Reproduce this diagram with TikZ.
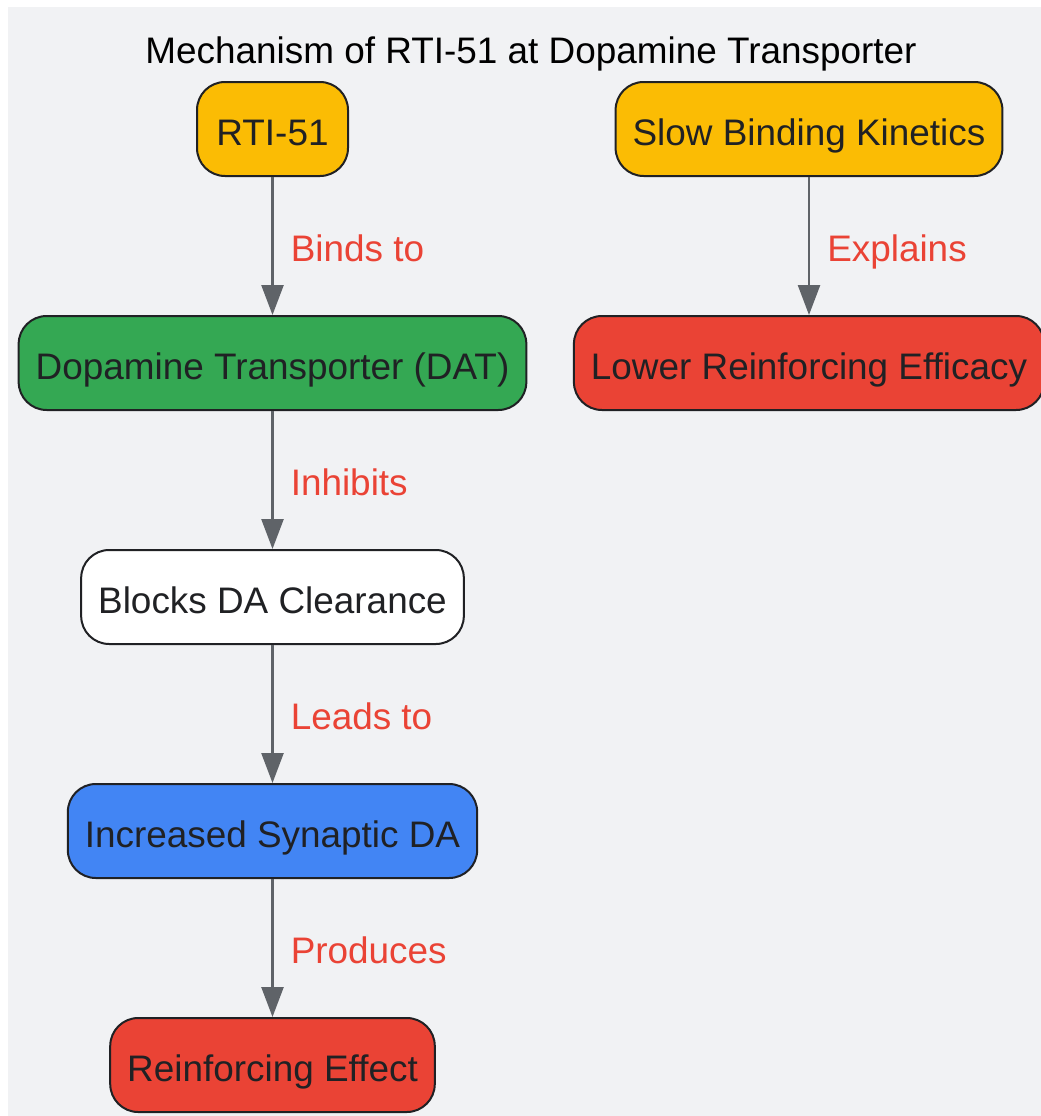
\documentclass[tikz,border=0pt]{standalone}
\usepackage{fontspec}
\setmainfont{Liberation Sans}
\usetikzlibrary{positioning,arrows.meta}

\definecolor{bgcol}{HTML}{F1F2F4}
\definecolor{edgecol}{HTML}{202124}
\definecolor{arrowcol}{HTML}{5F6368}
\definecolor{lblcol}{HTML}{EA4335}
\definecolor{yellowc}{HTML}{FBBC04}
\definecolor{greenc}{HTML}{34A853}
\definecolor{bluec}{HTML}{4285F4}
\definecolor{redc}{HTML}{EA4335}
\newcommand{\bigfont}{\fontsize{36.9pt}{44pt}\selectfont}

\begin{document}
\begin{tikzpicture}[x=1pt, y=1pt, node distance=138pt,
    box/.style = {draw=edgecol, line width=2pt, rounded corners=28pt, minimum height=94pt, inner xsep=17pt, text height=36pt, text depth=4pt, text=edgecol, font=\bigfont},
    link/.style = {draw=arrowcol, line width=2.5pt, -{Triangle[length=30pt,width=22pt]}},
    lbl/.style = {midway, anchor=base west, inner sep=0pt, xshift=17pt, yshift=-15.5pt, text=lblcol, font=\bigfont}]
    \fill[bgcol] (8,-7) rectangle (1041,-1116);
    \useasboundingbox (0,0) rectangle (1041,-1116);
    \node[font=\bigfont, anchor=base] (title) at (531,-63.5) {Mechanism of RTI-51 at Dopamine Transporter};
    % left column
    \node[box, fill=yellowc, minimum width=151pt] (rti) at (272.5,-129) {RTI-51};
    \node[box, fill=greenc] (dat) [below=of rti] {Dopamine Transporter (DAT)};
    \node[box, fill=white] (block) [below=of dat] {Blocks DA Clearance};
    \node[box, fill=bluec] (syn) [below=of block] {Increased Synaptic DA};
    \node[box, fill=redc] (reinf) [below=of syn] {Reinforcing Effect};
    % right column
    \node[box, fill=yellowc] (slow) at (809,-129) {Slow Binding Kinetics};
    \node[box, fill=redc] (lower) [below=of slow] {Lower Reinforcing Efficacy};
    \draw[link] (rti) -- (dat) node[lbl] {Binds to};
    \draw[link] (dat) -- (block) node[lbl] {Inhibits};
    \draw[link] (block) -- (syn) node[lbl] {Leads to};
    \draw[link] (syn) -- (reinf) node[lbl] {Produces};
    \draw[link] (slow) -- (lower) node[lbl] {Explains};
\end{tikzpicture}
\end{document}
